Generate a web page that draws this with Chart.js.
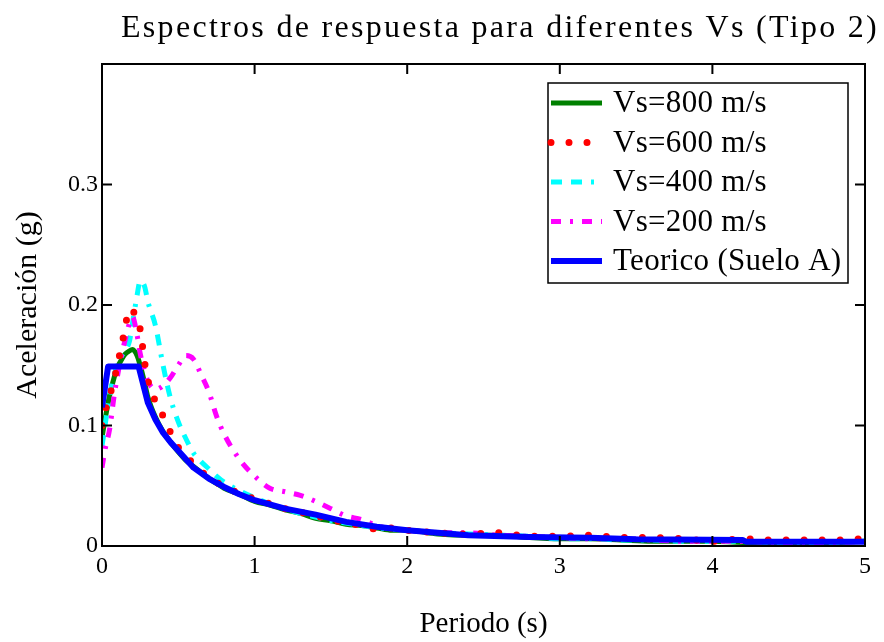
<!DOCTYPE html>
<html>
<head>
<meta charset="utf-8">
<script src="https://cdn.jsdelivr.net/npm/chart.js@4/dist/chart.umd.min.js"></script>
<style>
html,body{margin:0;padding:0;background:#fff}
canvas{display:block}
</style>
</head>
<body>
<canvas id="grafico" width="884" height="642"></canvas>
<script>
// periodos comunes de los registros (s)
const periodos=[0,0.02,0.05,0.08,0.1,0.13,0.15,0.18,0.2,0.23,0.25,0.28,0.3,0.35,0.4,0.45,0.5,0.55,0.6,0.65,0.7,0.75,0.8,0.9,1.0,1.1,1.2,1.3,1.4,1.5,1.6,1.7,1.8,1.9,2.0,2.2,2.4,2.6,2.8,3.0,3.2,3.4,3.6,3.8,4.0,4.2,4.4,4.6,4.8,5.0];

const vs800=[0.090,0.105,0.125,0.140,0.148,0.155,0.159,0.162,0.163,0.158,0.150,0.135,0.124,0.107,0.095,0.086,0.078,0.071,0.066,0.061,0.056,0.052,0.048,0.043,0.037,0.034,0.030,0.027,0.023,0.021,0.018,0.017,0.015,0.013,0.013,0.010,0.009,0.009,0.007,0.006,0.006,0.005,0.004,0.004,0.004,0.003,0.003,0.003,0.003,0.004];
const vs600=[0.100,0.112,0.125,0.138,0.150,0.167,0.180,0.197,0.195,0.190,0.180,0.152,0.138,0.120,0.108,0.094,0.082,0.075,0.068,0.062,0.057,0.053,0.049,0.044,0.039,0.035,0.031,0.028,0.025,0.022,0.019,0.017,0.014,0.015,0.013,0.011,0.010,0.011,0.008,0.008,0.009,0.007,0.007,0.006,0.004,0.006,0.005,0.005,0.005,0.006];
const vs400=[0.083,0.100,0.125,0.142,0.150,0.158,0.162,0.170,0.185,0.208,0.220,0.215,0.203,0.183,0.150,0.122,0.103,0.089,0.077,0.070,0.064,0.058,0.053,0.046,0.040,0.035,0.031,0.027,0.024,0.021,0.019,0.017,0.015,0.014,0.013,0.011,0.010,0.009,0.008,0.006,0.006,0.005,0.005,0.004,0.004,0.004,0.003,0.003,0.003,0.004];
const vs200=[0.065,0.080,0.097,0.125,0.140,0.160,0.170,0.185,0.190,0.175,0.160,0.145,0.137,0.130,0.133,0.140,0.150,0.158,0.155,0.142,0.128,0.108,0.093,0.072,0.058,0.048,0.045,0.042,0.037,0.031,0.025,0.022,0.017,0.014,0.013,0.011,0.011,0.009,0.008,0.007,0.006,0.006,0.005,0.004,0.004,0.004,0.003,0.003,0.003,0.004];

// espectro teorico suelo A
const periodosTeo=[0,0.04,0.24,0.3,0.35,0.4,0.45,0.5,0.6,0.7,0.8,0.9,1.0,1.2,1.4,1.6,1.8,2.0,2.2,2.4,2.8,3.2,3.5,4.2,4.22,5.0];
const teorico=[0.115,0.149,0.149,0.119,0.105,0.094,0.086,0.079,0.065,0.056,0.049,0.043,0.038,0.031,0.026,0.020,0.016,0.013,0.011,0.009,0.0075,0.0068,0.0055,0.005,0.0035,0.0035];

const etiquetas=["Vs=800 m/s","Vs=600 m/s","Vs=400 m/s","Vs=200 m/s","Teorico (Suelo A)"];
const ticksX=[0,1,2,3,4,5];
const ticksY=[0,0.1,0.2,0.3];

const pts=(xs,ys)=>xs.map((x,i)=>({x:x,y:ys[i]}));
const serif="'Liberation Serif','Times New Roman',serif";

const series=[
  {label:etiquetas[0],data:pts(periodos,vs800),borderColor:"#008000",borderWidth:5,borderDash:[],borderCapStyle:"butt",order:4},
  {label:etiquetas[1],data:pts(periodos,vs600),borderColor:"#ff0000",borderWidth:7,borderDash:[0,18],borderCapStyle:"round",order:1},
  {label:etiquetas[2],data:pts(periodos,vs400),borderColor:"#00ffff",borderWidth:5,borderDash:[11,9,11,9,3,9],borderCapStyle:"butt",order:3},
  {label:etiquetas[3],data:pts(periodos,vs200),borderColor:"#ff00ff",borderWidth:5,borderDash:[10,9,3,9],borderCapStyle:"butt",order:2},
  {label:etiquetas[4],data:pts(periodosTeo,teorico),borderColor:"#0000ff",borderWidth:6,borderDash:[],borderCapStyle:"butt",tension:0,order:0}
];
series.forEach(s=>{s.pointRadius=0;s.fill=false;s.borderJoinStyle="round";if(s.tension===undefined){s.cubicInterpolationMode="monotone";}});

/* marco, marcas interiores, titulo y leyenda */
const marco={
  id:"marco",
  afterDatasetsDraw(chart){
    const c=chart.ctx,a=chart.chartArea,sx=chart.scales.x,sy=chart.scales.y;
    c.save();
    c.strokeStyle="#000";c.lineWidth=2;c.setLineDash([]);
    c.strokeRect(a.left,a.top,a.right-a.left,a.bottom-a.top);
    const L=10;
    c.beginPath();
    sx.ticks.forEach(t=>{
      if(t.value<=0||t.value>=5)return;
      const px=sx.getPixelForValue(t.value);
      c.moveTo(px,a.bottom);c.lineTo(px,a.bottom-L);
      c.moveTo(px,a.top);c.lineTo(px,a.top+L);
    });
    sy.ticks.forEach(t=>{
      if(t.value<=0||t.value>=0.4)return;
      const py=sy.getPixelForValue(t.value);
      c.moveTo(a.left,py);c.lineTo(a.left+L,py);
      c.moveTo(a.right,py);c.lineTo(a.right-L,py);
    });
    c.stroke();

    // leyenda
    const lx=548,ly=83,lw=300,lh=200;
    c.fillStyle="#fff";c.fillRect(lx,ly,lw,lh);
    c.lineWidth=1.5;c.strokeRect(lx,ly,lw,lh);
    c.font="31px "+serif;c.letterSpacing="0.3px";c.textBaseline="middle";c.textAlign="left";
    chart.data.datasets.forEach((d,i)=>{
      const y=ly+20+i*39.5;
      c.strokeStyle=d.borderColor;c.lineWidth=d.borderWidth;
      c.setLineDash(d.borderDash);c.lineCap=d.borderCapStyle;
      c.beginPath();c.moveTo(551,y);c.lineTo(602,y);c.stroke();
      c.fillStyle="#000";c.fillText(d.label,613,y+1);
    });

    // titulo
    c.setLineDash([]);
    c.font="32px "+serif;c.letterSpacing="2.3px";
    c.fillStyle="#000";c.textAlign="left";c.textBaseline="alphabetic";
    c.fillText("Espectros de respuesta para diferentes Vs (Tipo 2)",121,37);
    c.restore();
  }
};

new Chart(document.getElementById("grafico").getContext("2d"),{
  type:"line",
  data:{datasets:series},
  plugins:[marco],
  options:{
    responsive:false,animation:false,
    layout:{padding:{left:0,right:19,top:64,bottom:0}},
    plugins:{legend:{display:false},title:{display:false},tooltip:{enabled:false}},
    scales:{
      x:{type:"linear",min:0,max:5,
        afterBuildTicks:s=>{s.ticks=ticksX.map(v=>({value:v}));},
        ticks:{color:"#000",font:{family:serif,size:24},padding:6,maxRotation:0,autoSkip:false},
        grid:{display:false,drawTicks:false},border:{display:false},
        title:{display:true,text:"Periodo (s)",color:"#000",font:{family:serif,size:29},padding:{top:0,bottom:0}},
        afterFit:s=>{s.height=96;}},
      y:{type:"linear",min:0,max:0.4,
        afterBuildTicks:s=>{s.ticks=ticksY.map(v=>({value:v}));},
        ticks:{color:"#000",font:{family:serif,size:24},padding:4,callback:v=>v===0?"0":String(+v.toFixed(1))},
        grid:{display:false,drawTicks:false},border:{display:false},
        title:{display:true,text:"Aceleración (g)",color:"#000",font:{family:serif,size:30},padding:{top:10,bottom:0}},
        afterFit:s=>{s.width=102;}}
    }
  }
});
</script>
</body>
</html>
